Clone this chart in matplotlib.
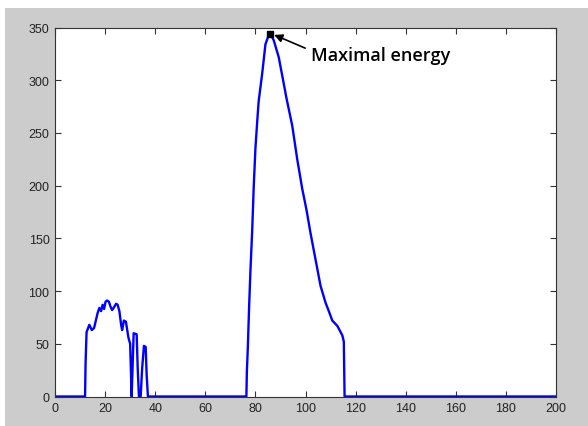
import matplotlib
matplotlib.use('Agg')
import matplotlib.pyplot as plt
from matplotlib.patches import Rectangle
import numpy as np

# ── Energy curve ──────────────────────────────────────────────────────────────
x_vals = [0, 12, 12.2, 12.6, 13.7, 14.7, 15.6, 16.4, 17.0, 17.7, 18.4, 19.0,
          19.6, 20.2, 20.8, 21.5, 22.2, 22.8, 23.4, 24.4, 25.0, 25.7, 26.4,
          26.8, 27.5, 28.3, 29.3, 30.0, 30.3, 30.6, 31.4, 32.6, 33.0, 33.5,
          34.2, 34.8, 35.5, 36.2, 36.6, 37.1,
          76.4, 76.6, 77.0, 77.5, 78.1, 78.7, 79.3, 80.0, 80.7, 81.3, 82.7,
          84.0, 85.2, 86.0, 87.3, 89.3, 91.3, 92.4, 94.7, 96.7, 98.7, 100.4,
          102.0, 104.0, 106.0, 108.0, 109.3, 110.7, 112.7, 114.7, 115.3,
          115.6, 200]
y_vals = [0, 0, 31, 61, 68, 63, 65, 73, 79, 84, 81, 87,
          83, 90, 91, 90, 85, 82, 84, 88, 87, 81, 68,
          63, 72, 71, 56, 50, 25, 0, 60, 59, 28, 0,
          0, 27, 48, 47, 20, 0,
          0, 24, 48, 86, 124, 156, 197, 235, 260, 280, 306,
          334, 342, 344, 338, 322, 297, 283, 257, 225, 197, 177,
          155, 130, 105, 89, 81, 72, 67, 58, 52,
          0, 0]

x_ticks = list(range(0, 201, 20))
y_ticks = list(range(0, 351, 50))
annot_text = 'Maximal energy'

fig = plt.figure(figsize=(5.88, 4.27), dpi=100, facecolor='white')
# matlab-style grey figure area (thin white strip top/left as in reference)
bg = Rectangle((5 / 588, 0), 1, (427 - 9) / 427, transform=fig.transFigure,
               facecolor='#cccccc', edgecolor='none', zorder=-10)
fig.add_artist(bg)

ax = fig.add_axes([55 / 588, (427 - 397.5) / 427, 501 / 588, 369 / 427])
ax.set_facecolor('white')
ax.plot(x_vals, y_vals, color='#0000ff', linewidth=1.7)

# mark maximum
i_max = int(np.argmax(y_vals))
ax.plot(x_vals[i_max], y_vals[i_max], 's', color='black', markersize=4.5)
ax.annotate(annot_text, xy=(x_vals[i_max] + 1.5, y_vals[i_max] - 1),
            xytext=(102, 324), fontsize=13, fontweight='semibold',
            family='Open Sans', va='center', ha='left',
            arrowprops=dict(arrowstyle='-|>', color='black', lw=1.2,
                            mutation_scale=12, shrinkA=2, shrinkB=0,
                            relpos=(0, 0.75)))

ax.set_xlim(0, 200)
ax.set_ylim(0, 350)
ax.set_xticks(x_ticks)
ax.set_yticks(y_ticks)
ax.tick_params(direction='in', top=True, right=True, length=4, width=0.8,
               color='#333333', labelsize=9, labelcolor='#222222', pad=4)
for lbl in ax.get_xticklabels() + ax.get_yticklabels():
    lbl.set_family('Liberation Sans')
for s in ax.spines.values():
    s.set_color('#333333')
    s.set_linewidth(0.8)

plt.savefig('out.png', dpi=100)
